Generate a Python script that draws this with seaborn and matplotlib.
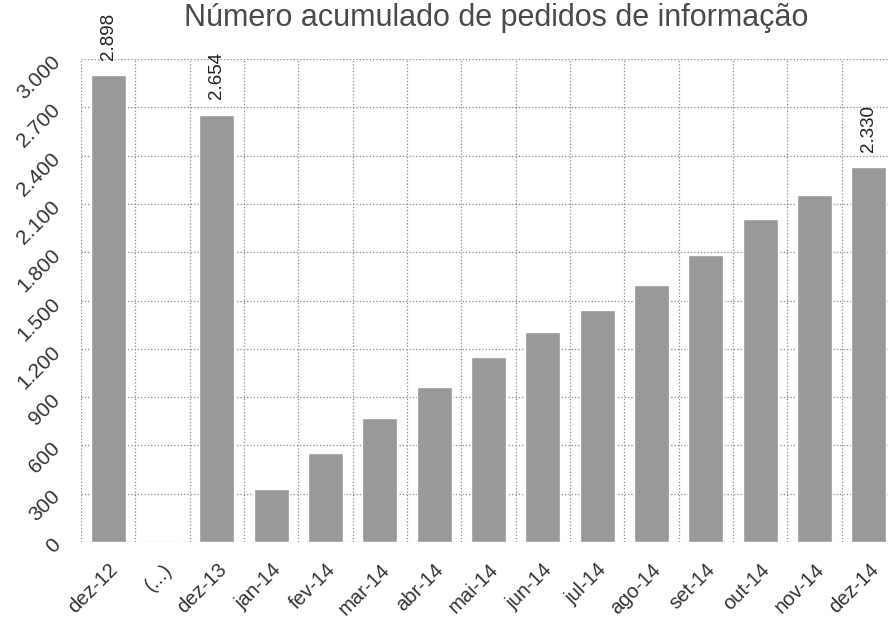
import numpy as np
import pandas as pd
import seaborn as sns
import matplotlib.pyplot as plt
from matplotlib.ticker import FixedLocator

# Data
categories = ['dez-12', '(...)', 'dez-13', 'jan-14', 'fev-14', 'mar-14', 'abr-14',
              'mai-14', 'jun-14', 'jul-14', 'ago-14', 'set-14', 'out-14', 'nov-14', 'dez-14']
values = [2898, np.nan, 2654, 332, 552, 772, 965, 1148, 1303, 1442,
          1598, 1784, 2009, 2158, 2330]
labelled = ['dez-12', 'dez-13', 'dez-14']
y_ticks = [0, 300, 600, 900, 1200, 1500, 1800, 2100, 2400, 2700, 3000]


def fmt_pt(v):
    # Portuguese thousands separator
    return f"{int(v):,}".replace(',', '.')


sns.set_theme(style='white')
plt.rcParams['font.family'] = ['Liberation Sans', 'DejaVu Sans']

df = pd.DataFrame({'mes': categories, 'pedidos': values})

fig = plt.figure(figsize=(8.88, 6.24), dpi=100)
ax = fig.add_axes([81 / 888, 82 / 624, 815 / 888, 483 / 624])

sns.barplot(data=df, x='mes', y='pedidos', order=categories, color='#999999',
            width=0.64, saturation=1, ax=ax)

ax.set_xlim(-0.5, len(categories) - 0.5)
ax.set_ylim(0, 3000)
ax.set_xlabel('')
ax.set_ylabel('')

# dotted grid: horizontal at y ticks, vertical between categories
ax.set_yticks(y_ticks)
ax.set_yticklabels([fmt_pt(v) for v in y_ticks])
ax.xaxis.set_minor_locator(FixedLocator(np.arange(-0.5, len(categories), 1)))
ax.grid(axis='y', which='major', linestyle=':', color='#8a8a8a', linewidth=0.9)
ax.grid(axis='x', which='minor', linestyle=':', color='#8a8a8a', linewidth=0.9)
ax.set_axisbelow(True)
for s in ax.spines.values():
    s.set_visible(False)

ax.tick_params(axis='x', which='both', length=0, pad=13, labelsize=14.5, labelcolor='#333333')
ax.tick_params(axis='y', length=0, pad=17, labelsize=15, labelcolor='#333333')
for lab in ax.get_xticklabels():
    lab.set_rotation(45)
    lab.set_rotation_mode('anchor')
    lab.set_ha('right')
    lab.set_va('top')
for lab in ax.get_yticklabels():
    lab.set_rotation(45)
    lab.set_rotation_mode('anchor')
    lab.set_ha('right')
    lab.set_va('center')

# value labels above selected bars
for i, (cat, val) in enumerate(zip(categories, values)):
    if cat in labelled:
        ax.annotate(fmt_pt(val), xy=(i, val), xytext=(0, 11), textcoords='offset points',
                    rotation=90, ha='center', va='bottom', fontsize=13.5,
                    color='#222222', annotation_clip=False)

fig.text(496 / 888, 1 - 18 / 624, 'Número acumulado de pedidos de informação',
         ha='center', va='center', fontsize=22, color='#4a4a4a')

fig.savefig('out.png', dpi=100)
